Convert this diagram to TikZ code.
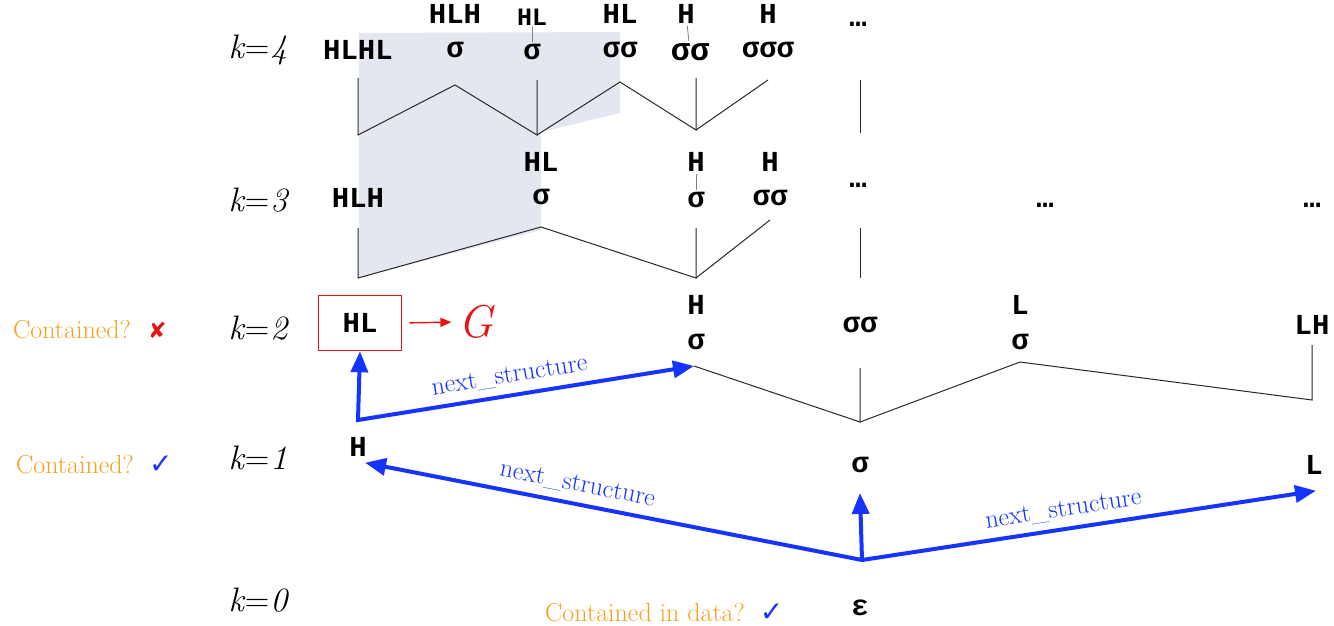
\documentclass[tikz,border=0pt]{standalone}
\usepackage{fontspec}
\usepackage{tikz}
\usetikzlibrary{arrows.meta}

\newfontfamily\monofont{Liberation Mono}
\newfontfamily\symfont{DejaVu Sans}

\definecolor{nextblue}{RGB}{22,52,255}
\definecolor{askorange}{RGB}{246,160,30}
\definecolor{failred}{RGB}{232,18,18}
\definecolor{covered}{RGB}{228,231,240}
\definecolor{skelgray}{RGB}{40,40,40}

\begin{document}
\begin{tikzpicture}[x=1pt, y=-1pt,
    tok/.style={font=\monofont\bfseries\fontsize{29}{29}\selectfont, inner sep=0pt},
    smalltok/.style={tok, font=\monofont\bfseries\fontsize{25}{25}\selectfont},
    level/.style={font=\itshape\fontsize{34}{34}\selectfont},
    ask/.style={text=askorange, font=\fontsize{26}{26}\selectfont},
    skel/.style={draw=skelgray, line width=1pt},
    bar/.style={draw=gray, line width=0.8pt, shorten <=2pt, shorten >=2pt},
    nextarrow/.style={draw=nextblue, line width=4pt, line join=miter, -{Triangle[length=21pt,width=17pt]}},
    nextlabel/.style={text=nextblue, font=\fontsize{26}{26}\selectfont, sloped, above=4pt}]

    \useasboundingbox (0,0) rectangle (1334,626);

    % Covered region
    \fill[covered] (359,33) -- (620,32) -- (620,113) -- (541,132) -- (541,230) -- (359,278) -- cycle;

    % Levels
    \node[level] (k4) at (258,50) {k\kern1pt\upshape=\itshape\kern1pt 4};
    \node[level] (k3) at (258,200) {k\kern1pt\upshape=\itshape\kern1pt 3};
    \node[level] (k2) at (258,328) {k\kern1pt\upshape=\itshape\kern1pt 2};
    \node[level] (k1) at (258,458) {k\kern1pt\upshape=\itshape\kern1pt 1};
    \node[level] (k0) at (258,600) {k\kern1pt\upshape=\itshape\kern1pt 0};

    % Level 4
    \node[tok] (hlhl4) at (358,50) {HLHL};
    \node[tok] (hlh4) at (455,14) {HLH};
    \node[tok] (s4a) at (455,50) {σ};
    \node[smalltok] (hl4a) at (532,17) {HL};
    \node[tok] (s4b) at (532,52) {σ};
    \node[tok] (hl4b) at (620,14) {HL};
    \node[tok] (ss4a) at (620,50) {σσ};
    \node[tok] (h4a) at (686,14) {H};
    \node[tok, font=\monofont\bfseries\fontsize{32}{32}\selectfont] (ss4b) at (690,52) {σσ};
    \node[tok] (h4b) at (768,14) {H};
    \node[tok] (sss4) at (768,50) {σσσ};
    \node[tok] (dots4) at (858,24) {…};
    \draw[bar] (hl4a) -- (s4b);
    \draw[bar] (h4a) -- (ss4b);

    \coordinate (t4a) at (358,78);  \coordinate (b4a) at (358,135);
    \coordinate (p4a) at (455,85);
    \coordinate (t4b) at (537,80);  \coordinate (b4b) at (537,135);
    \coordinate (p4b) at (620,82);
    \coordinate (t4c) at (696,78);  \coordinate (b4c) at (696,130);
    \coordinate (p4c) at (768,80);
    \coordinate (t4d) at (860,80);  \coordinate (b4d) at (860,133);
    \draw[skel] (t4a) -- (b4a) -- (p4a) -- (b4b) -- (t4b);
    \draw[skel] (b4b) -- (p4b) -- (b4c) -- (t4c);
    \draw[skel] (b4c) -- (p4c);
    \draw[skel] (t4d) -- (b4d);

    % Level 3
    \node[tok] (hlh3) at (358,198) {HLH};
    \node[tok] (hl3) at (541,162) {HL};
    \node[tok] (s3a) at (541,197) {σ};
    \node[tok] (h3a) at (696,162) {H};
    \node[tok] (s3b) at (696,200) {σ};
    \node[tok] (h3b) at (770,162) {H};
    \node[tok] (ss3) at (770,198) {σσ};
    \node[tok] (dots3a) at (858,185) {…};
    \node[tok] (dots3b) at (1045,205) {…};
    \node[tok] (dots3c) at (1312,205) {…};
    \draw[bar] (h3a) -- (s3b);

    \coordinate (t3a) at (358,228);  \coordinate (b3a) at (358,278);
    \coordinate (p3a) at (541,227);
    \coordinate (t3b) at (696,228);  \coordinate (b3b) at (696,278);
    \coordinate (p3b) at (770,220);
    \coordinate (t3c) at (860,228);  \coordinate (b3c) at (860,278);
    \draw[skel] (t3a) -- (b3a) -- (p3a) -- (b3b) -- (t3b);
    \draw[skel] (b3b) -- (p3b);
    \draw[skel] (t3c) -- (b3c);

    % Level 2
    \node[tok, draw=failred, line width=1.6pt, minimum width=83pt, minimum height=55pt] (hl2) at (360,323) {HL};
    \node[text=failred, font=\itshape\fontsize{46}{46}\selectfont, inner sep=0pt] (g) at (476,322) {G};
    \draw[failred, line width=1.4pt, -{Triangle[length=11pt,width=9pt]}, shorten <=7pt, shorten >=7pt] (hl2.east) -- (g.west);
    \node[tok] (h2) at (696,305) {H};
    \node[tok] (s2a) at (696,342) {σ};
    \node[tok] (ss2) at (860,325) {σσ};
    \node[tok] (l2) at (1020,305) {L};
    \node[tok] (s2b) at (1020,342) {σ};
    \node[tok] (lh2) at (1312,325) {LH};

    \coordinate (p2a) at (694,366);
    \coordinate (t2b) at (860,368);  \coordinate (b2b) at (860,422);
    \coordinate (p2c) at (1020,362);
    \coordinate (t2d) at (1312,345); \coordinate (b2d) at (1312,400);
    \draw[skel] (p2a) -- (b2b) -- (t2b);
    \draw[skel] (b2b) -- (p2c) -- (b2d) -- (t2d);

    % Level 1
    \node[tok] (h1) at (358,447) {H};
    \node[tok] (s1) at (860,465) {σ};
    \node[tok] (l1) at (1314,465) {L};

    % Level 0
    \node[tok] (eps) at (860,608) {ε};

    % next_structure steps
    \coordinate (c2) at (358,420);
    \coordinate (c0) at (862,560);
    \draw[nextarrow, {Triangle[length=21pt,width=17pt]}-{Triangle[length=21pt,width=17pt]}]
        (hl2.south) -- (c2) -- node[nextlabel, pos=0.46] {next\_structure} (p2a);
    \draw[nextarrow, {Triangle[length=21pt,width=17pt]}-{Triangle[length=21pt,width=17pt]}]
        ([xshift=7pt,yshift=-6pt]h1.south) -- node[nextlabel, pos=0.42] {next\_structure} (c0)
        -- node[nextlabel, pos=0.45] {next\_structure} ([xshift=2pt,yshift=-16pt]l1.south);
    \draw[nextarrow] (c0) -- ([yshift=-20pt]s1.south);

    % Checks
    \node[ask] (ask2) at (72,330) {Contained?};
    \node[text=failred, font=\symfont\bfseries\fontsize{22}{22}\selectfont, anchor=west] (no2) at ([xshift=10pt]ask2.east) {✘};
    \node[ask] (ask1) at (75,465) {Contained?};
    \node[text=nextblue, font=\symfont\fontsize{28}{28}\selectfont, anchor=west] (yes1) at ([xshift=8pt]ask1.east) {✓};
    \node[ask] (ask0) at (645,613) {Contained in data?};
    \node[text=nextblue, font=\symfont\fontsize{28}{28}\selectfont, anchor=west] (yes0) at ([xshift=8pt]ask0.east) {✓};
\end{tikzpicture}
\end{document}
